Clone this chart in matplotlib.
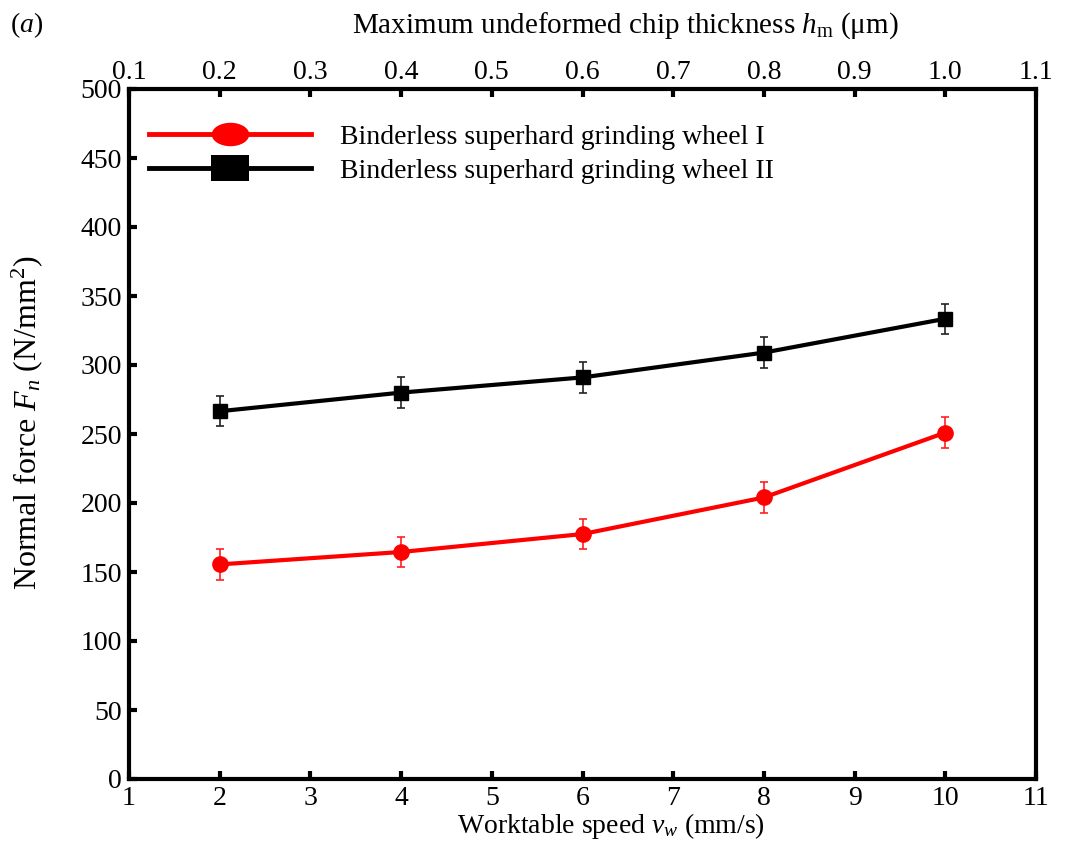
import matplotlib
matplotlib.use("Agg")
import matplotlib.pyplot as plt
from matplotlib.lines import Line2D
from matplotlib.path import Path
from matplotlib.transforms import Affine2D

plt.rcParams['font.family'] = ['Liberation Serif', 'DejaVu Serif']
plt.rcParams['mathtext.fontset'] = 'custom'
plt.rcParams['mathtext.rm'] = 'Liberation Serif'
plt.rcParams['mathtext.it'] = 'Liberation Serif:italic'

speed = [2, 4, 6, 8, 10]
wheel1 = [155.5, 164.5, 177.5, 204, 251]
wheel2 = [266.5, 280, 291, 309, 333.5]
err1 = [11, 11, 11, 11, 11]
err2 = [11, 11, 11, 11, 11]
xticks = [1, 2, 3, 4, 5, 6, 7, 8, 9, 10, 11]
yticks = [0, 50, 100, 150, 200, 250, 300, 350, 400, 450, 500]
top_ticks = ['0.1', '0.2', '0.3', '0.4', '0.5', '0.6', '0.7', '0.8', '0.9', '1.0', '1.1']
labels = ['Binderless superhard grinding wheel I', 'Binderless superhard grinding wheel II']

FS = 20
fig = plt.figure(figsize=(10.7, 8.41), dpi=100)
ax = fig.add_axes([129/1070, 1 - 779/841, (1036-129)/1070, (779-89)/841])

ax.errorbar(speed, wheel1, yerr=err1, color='#ff0000', lw=3, marker='o', ms=11,
            capsize=3, elinewidth=1.2, capthick=1.2, ecolor='#ff2020')
ax.errorbar(speed, wheel2, yerr=err2, color='black', lw=3, marker='s', ms=10,
            capsize=3, elinewidth=1.2, capthick=1.2, ecolor='#222222')

ax.set_xlim(1, 11)
ax.set_ylim(0, 500)
ax.set_xticks(xticks)
ax.set_yticks(yticks)
ax.tick_params(direction='in', length=6, width=3, labelsize=FS, pad=5)
for s in ax.spines.values():
    s.set_linewidth(3)

ax.set_xlabel(r'Worktable speed $v_w$ (mm/s)', fontsize=FS)
ax.xaxis.set_label_coords(0.531, -0.046)
ax.set_ylabel(r'Normal force $F_n$ (N/mm$^2$)', fontsize=23)
ax.yaxis.set_label_coords(-0.093, 0.516)

ax2 = ax.twiny()
ax2.set_xlim(1, 11)
ax2.set_xticks(xticks)
ax2.set_xticklabels(top_ticks)
ax2.tick_params(direction='in', length=6, width=3, labelsize=FS, pad=3)
ax2.set_xlabel(r'Maximum undeformed chip thickness $h_{\mathrm{m}}$ ($\mathrm{\mu}$m)', fontsize=21)
ax2.xaxis.set_label_coords(0.547, 1.081)

ellipse = Path.unit_circle().transformed(Affine2D().scale(1.6, 1.0))
rect = Path([(-1.5, -1), (1.5, -1), (1.5, 1), (-1.5, 1), (-1.5, -1)],
            [Path.MOVETO, Path.LINETO, Path.LINETO, Path.LINETO, Path.CLOSEPOLY])
h1 = Line2D([], [], color='#ff0000', lw=3.5, marker=ellipse, ms=27, markeredgewidth=0)
h2 = Line2D([], [], color='black', lw=3.5, marker=rect, ms=28, markeredgewidth=0)
ax.legend([h1, h2], labels, loc='upper left', bbox_to_anchor=(-0.005, 0.985), frameon=False,
          fontsize=FS, handlelength=5.8, handletextpad=1.05, labelspacing=0.3, borderaxespad=0.5)

fig.text(10/1070, 1 - 25/841, r'($a$)', fontsize=FS, va='center')

fig.savefig('out.png', dpi=100)
